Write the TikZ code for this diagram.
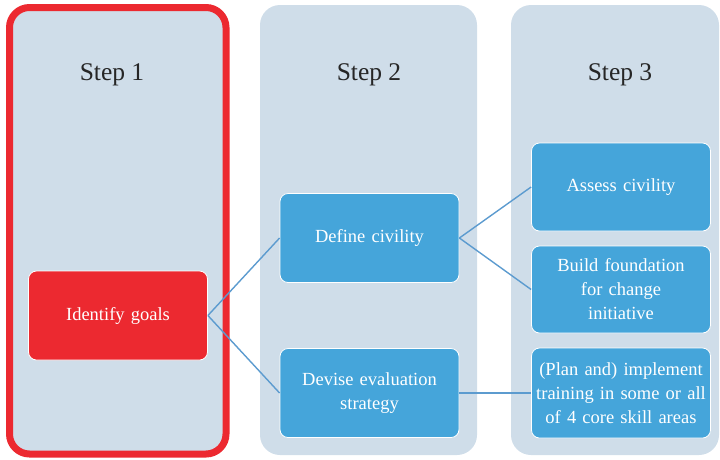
\documentclass[tikz,border=0pt]{standalone}
\usepackage{fontspec}
\setmainfont{Liberation Serif}
\definecolor{colbg}{HTML}{CFDDE9}
\definecolor{boxblue}{HTML}{45A5DA}
\definecolor{boxred}{HTML}{EC2930}
\definecolor{linkc}{HTML}{5C9BCF}
\definecolor{txt}{HTML}{262626}
\begin{document}
\begin{tikzpicture}[x=1pt,y=-1pt,
  column/.style={fill=colbg, rounded corners=20pt},
  steplabel/.style={font=\fontsize{25.5}{28}\selectfont, text=txt},
  taskbox/.style={fill=boxblue, draw=white, line width=0.8pt, rounded corners=8pt, text=white,
    font=\fontsize{18.5}{24}\selectfont, align=center, minimum width=179pt, minimum height=89pt, inner sep=1pt, text width=177pt},
  goalbox/.style={taskbox, fill=boxred},
  link/.style={draw=linkc, line width=1.4pt}
]
\useasboundingbox (0,0) rectangle (720,459);
% columns
\path[column, draw=boxred, line width=7pt] (9.5,7.5) rectangle (226,454);
\path[column] (260,5) rectangle (477,455);
\path[column] (511,5) rectangle (719,455);
% step labels
\node[steplabel] (s1) at (112,75) {Step 1};
\node[steplabel] (s2) at (369,75) {Step 2};
\node[steplabel] (s3) at (620,75) {Step 3};
% boxes
\node[goalbox] (goal) at (118,315.5) {Identify goals};
\node[taskbox] (def) at (369.5,238) {Define civility};
\node[taskbox] (dev) at (369.5,393) {Devise evaluation\\strategy};
\node[taskbox, minimum height=88pt] (ass) at (621,187) {Assess civility};
\node[taskbox, minimum height=87pt] (bld) at (621,289.5) {Build foundation\\for change\\initiative};
\node[taskbox, minimum height=90pt] (pln) at (621,393) {(Plan and) implement\\training in some or all\\of 4 core skill areas};
% links
\draw[link] (goal.east) -- (def.west);
\draw[link] (goal.east) -- (dev.west);
\draw[link] (def.east) -- (ass.west);
\draw[link] (def.east) -- (bld.west);
\draw[link] (dev.east) -- (pln.west);
\end{tikzpicture}
\end{document}
